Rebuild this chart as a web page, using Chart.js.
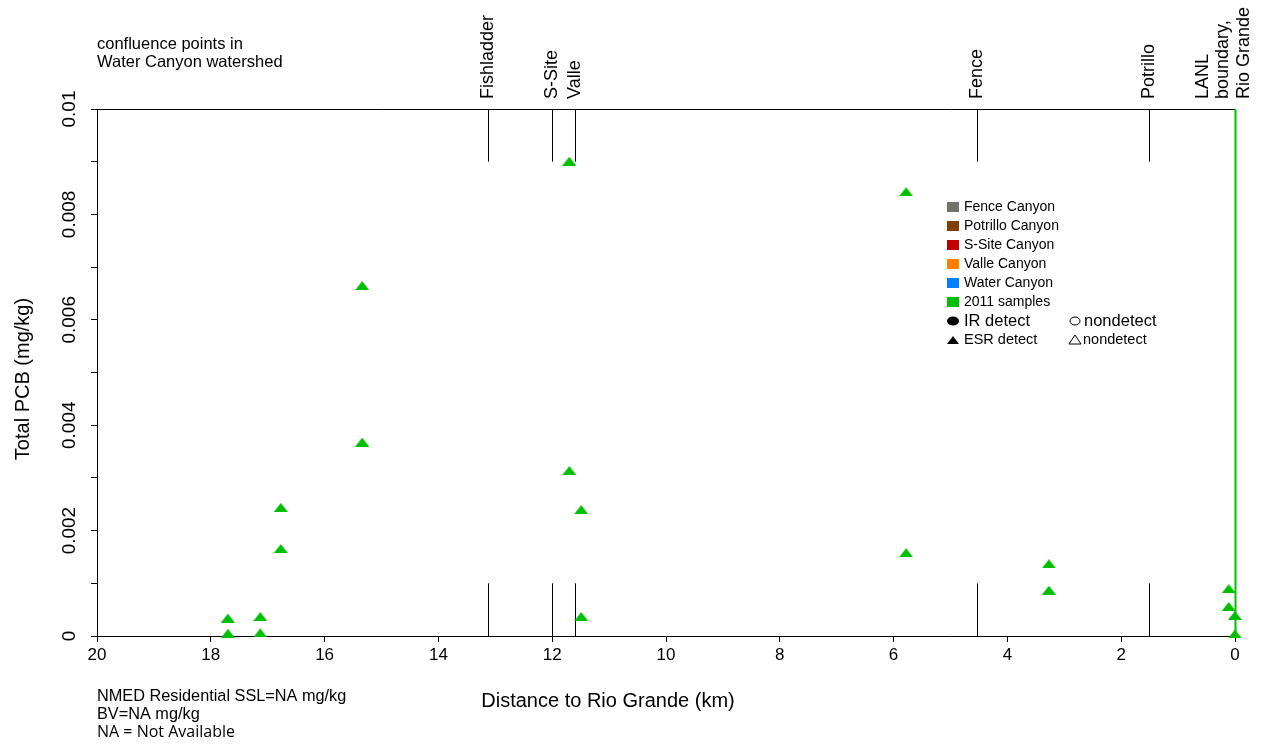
<!DOCTYPE html>
<html>
<head>
<meta charset="utf-8">
<script src="https://cdn.jsdelivr.net/npm/chart.js@4/dist/chart.umd.min.js"></script>
<style>
  body { margin: 0; background: #fff; }
  #wrap { width: 1264px; height: 744px; }
</style>
</head>
<body>
<div id="wrap"><canvas id="myChart" width="1264" height="744"></canvas></div>
<script>
// 2011 samples, distance to Rio Grande (km) and total PCB (mg/kg)
const sampleKm  = [17.70, 17.70, 17.13, 17.13, 16.77, 16.77, 15.34, 15.34, 11.70, 11.70,
                   11.49, 11.49, 5.78, 5.78, 3.27, 3.27, 0.11, 0.11, 0.0, 0.0];
const samplePcb = [0.00034, 0.00005, 0.00037, 0.00006, 0.00244, 0.00166, 0.00665, 0.00368, 0.00901, 0.00314,
                   0.00240, 0.00037, 0.00843, 0.00158, 0.00137, 0.00087, 0.00090, 0.00056, 0.00039, 0.00004];

// confluence points in Water Canyon watershed
const confluenceNames = [["Fishladder"], ["S-Site"], ["Valle"], ["Fence"], ["Potrillo"], ["LANL", "boundary,", "Rio Grande"]];
const confluenceKm = [13.13, 12.0, 11.6, 4.53, 1.51, 0];

const legendNames  = ["Fence Canyon", "Potrillo Canyon", "S-Site Canyon", "Valle Canyon", "Water Canyon", "2011 samples"];
const legendColors = ["#72726a", "#7f3f00", "#c00000", "#ff8000", "#0080ff", "#00bf00"];

const GREEN = "#00bf00";
const SANS = "'Liberation Sans', Arial, sans-serif";

// flat triangle like R's pch 17
function makeTriangle(color, w, h) {
  const c = document.createElement("canvas");
  c.width = w; c.height = h;
  const g = c.getContext("2d");
  g.fillStyle = color;
  g.beginPath();
  g.moveTo(w / 2, 0);
  g.lineTo(w, h);
  g.lineTo(0, h);
  g.closePath();
  g.fill();
  return c;
}
const greenTri = makeTriangle(GREEN, 14, 9);

const points = sampleKm.map((km, i) => ({ x: km, y: samplePcb[i] }));

const decorations = {
  id: "decorations",
  beforeDatasetsDraw(chart) {
    const ctx = chart.ctx;
    const xs = chart.scales.x, ys = chart.scales.y;
    const a = chart.chartArea;
    ctx.save();
    // top frame line
    ctx.strokeStyle = "#000";
    ctx.lineWidth = 1;
    ctx.beginPath();
    ctx.moveTo(a.left, a.top + 0.5);
    ctx.lineTo(a.right, a.top + 0.5);
    ctx.stroke();
    // confluence marker lines
    confluenceKm.forEach((km, i) => {
      const px = Math.round(xs.getPixelForValue(km)) + 0.5;
      ctx.beginPath();
      if (i === confluenceKm.length - 1) {
        ctx.strokeStyle = GREEN;
        ctx.lineWidth = 2;
        ctx.moveTo(px, a.top);
        ctx.lineTo(px, a.bottom);
      } else {
        ctx.strokeStyle = "#000";
        ctx.lineWidth = 1;
        ctx.moveTo(px, ys.getPixelForValue(0.01));
        ctx.lineTo(px, ys.getPixelForValue(0.009));
        ctx.moveTo(px, ys.getPixelForValue(0.001));
        ctx.lineTo(px, ys.getPixelForValue(0));
      }
      ctx.stroke();
    });
    ctx.restore();
  },
  afterDraw(chart) {
    const ctx = chart.ctx;
    const xs = chart.scales.x, ys = chart.scales.y;
    ctx.save();
    ctx.fillStyle = "#000";
    ctx.strokeStyle = "#000";

    // confluence labels, rotated
    ctx.font = "18px " + SANS;
    ctx.textAlign = "left";
    ctx.textBaseline = "middle";
    confluenceKm.forEach((km, i) => {
      const lines = confluenceNames[i];
      const px = xs.getPixelForValue(km);
      const step = 20.5;
      const x0 = px - (lines.length > 1 ? 32 : 0);
      lines.forEach((t, j) => {
        ctx.save();
        ctx.translate(x0 + j * step, 99);
        ctx.rotate(-Math.PI / 2);
        ctx.fillText(t, 0, 0);
        ctx.restore();
      });
    });

    // y tick labels, rotated
    ctx.font = "19px " + SANS;
    ctx.textAlign = "center";
    ys.ticks.forEach((t, i) => {
      if (i % 2 !== 0) return;
      const py = ys.getPixelForValue(t.value);
      ctx.save();
      ctx.translate(70, py);
      ctx.rotate(-Math.PI / 2);
      ctx.fillText(String(Number(t.value.toFixed(3))), 0, 0);
      ctx.restore();
    });

    // y axis title
    ctx.font = "20px " + SANS;
    ctx.save();
    ctx.translate(23, 379);
    ctx.rotate(-Math.PI / 2);
    ctx.fillText("Total PCB (mg/kg)", 0, 0);
    ctx.restore();

    // x axis title
    ctx.fillText("Distance to Rio Grande (km)", 608, 701);

    // notes
    ctx.textAlign = "left";
    ctx.font = "16.5px " + SANS;
    ctx.fillText("confluence points in", 97, 44);
    ctx.fillText("Water Canyon watershed", 97, 62);
    ctx.font = "16.3px " + SANS;
    ctx.fillText("NMED Residential SSL=NA mg/kg", 97, 697);
    ctx.fillText("BV=NA mg/kg", 97, 715);
    ctx.font = "16px 'Open Sans', " + SANS;
    ctx.fillText("NA = Not Available", 97, 732);

    // legend
    const lx = 947, ly = 207, row = 19;
    ctx.font = "14px " + SANS;
    legendNames.forEach((name, i) => {
      ctx.fillStyle = legendColors[i];
      ctx.fillRect(lx, ly + i * row - 5, 12, 10);
      ctx.fillStyle = "#000";
      ctx.fillText(name, lx + 17, ly + i * row);
    });
    const yIR = ly + 6 * row, yESR = ly + 7 * row;
    ctx.beginPath();
    ctx.ellipse(lx + 6, yIR, 6, 4.5, 0, 0, Math.PI * 2);
    ctx.fill();
    ctx.drawImage(makeTriangle("#000", 12, 8), lx, yESR - 4);
    ctx.font = "16.5px " + SANS;
    ctx.fillText("IR detect", lx + 17, yIR);
    ctx.fillText("nondetect", 1084, yIR);
    ctx.font = "14.5px " + SANS;
    ctx.fillText("ESR detect", lx + 17, yESR);
    ctx.fillText("nondetect", 1083, yESR);
    ctx.lineWidth = 1;
    ctx.beginPath();
    ctx.ellipse(1075, yIR, 5, 4, 0, 0, Math.PI * 2);
    ctx.stroke();
    ctx.beginPath();
    ctx.moveTo(1075, yESR - 5);
    ctx.lineTo(1081, yESR + 4);
    ctx.lineTo(1069, yESR + 4);
    ctx.closePath();
    ctx.stroke();
    ctx.restore();
  }
};

new Chart(document.getElementById("myChart"), {
  type: "scatter",
  data: {
    datasets: [{
      label: "2011 samples",
      data: points,
      pointStyle: greenTri,
      backgroundColor: GREEN,
      borderColor: GREEN,
      clip: false
    }]
  },
  options: {
    responsive: false,
    animation: false,
    events: [],
    layout: { padding: { top: 109, right: 29, left: 0, bottom: 0 } },
    plugins: { legend: { display: false }, tooltip: { enabled: false } },
    scales: {
      x: {
        type: "linear",
        reverse: true,
        min: 0,
        max: 20,
        afterFit: s => { s.height = 108; },
        border: { display: true, color: "#000", width: 1 },
        grid: { drawOnChartArea: false, drawTicks: true, tickLength: 6, color: "#000" },
        ticks: { stepSize: 2, color: "#000", padding: 3, maxRotation: 0, font: { family: SANS, size: 17 } }
      },
      y: {
        min: 0,
        max: 0.01,
        afterFit: s => { s.width = 97; },
        border: { display: true, color: "#000", width: 1 },
        grid: { drawOnChartArea: false, drawTicks: true, tickLength: 6, color: "#000" },
        ticks: { stepSize: 0.001, display: false }
      }
    }
  },
  plugins: [decorations]
});
</script>
</body>
</html>
